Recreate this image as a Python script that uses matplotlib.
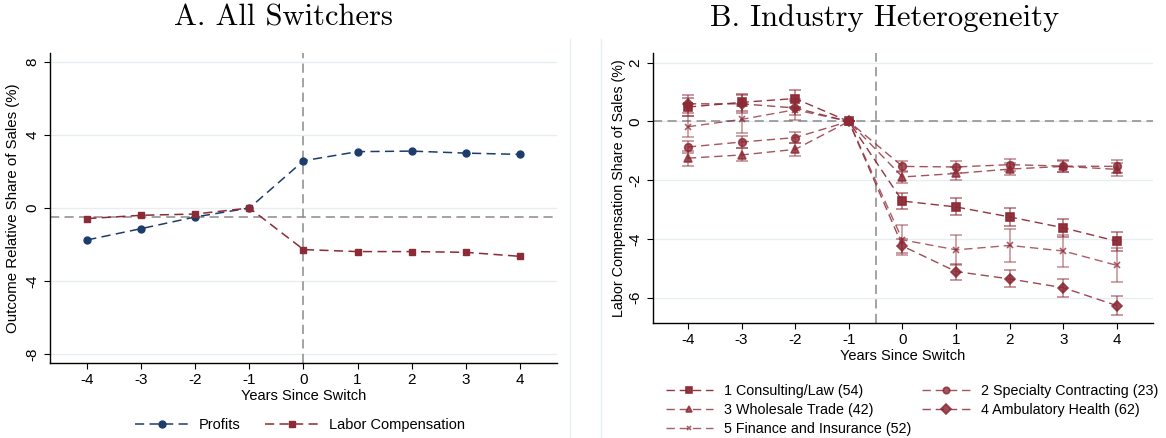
import matplotlib
matplotlib.use("Agg")
import matplotlib.pyplot as plt
from matplotlib.lines import Line2D

plt.rcParams["font.family"] = ["Liberation Sans", "DejaVu Sans"]
plt.rcParams["axes.unicode_minus"] = False

# years relative to switch
years = [-4, -3, -2, -1, 0, 1, 2, 3, 4]

# panel A
profits = [-1.75, -1.13, -0.49, 0.0, 2.59, 3.09, 3.12, 3.01, 2.94]
labor = [-0.58, -0.40, -0.33, 0.0, -2.28, -2.39, -2.39, -2.43, -2.65]

# panel B: estimates and CI half-widths
industries = ["1 Consulting/Law (54)", "2 Specialty Contracting (23)", "3 Wholesale Trade (42)",
              "4 Ambulatory Health (62)", "5 Finance and Insurance (52)"]
markers = ["s", "o", "^", "D", "x"]
consulting = [0.49, 0.65, 0.78, 0.0, -2.71, -2.91, -3.25, -3.62, -4.08]
consulting_ci = [0.30, 0.30, 0.28, 0.0, 0.27, 0.29, 0.31, 0.31, 0.32]
specialty = [-0.87, -0.70, -0.55, 0.0, -1.53, -1.55, -1.47, -1.52, -1.53]
specialty_ci = [0.22, 0.22, 0.18, 0.0, 0.20, 0.20, 0.20, 0.20, 0.22]
wholesale = [-1.25, -1.14, -0.95, 0.0, -1.89, -1.77, -1.62, -1.53, -1.63]
wholesale_ci = [0.25, 0.22, 0.22, 0.0, 0.22, 0.22, 0.20, 0.20, 0.22]
health = [0.60, 0.60, 0.46, 0.0, -4.24, -5.11, -5.36, -5.66, -6.27]
health_ci = [0.30, 0.30, 0.25, 0.0, 0.25, 0.27, 0.29, 0.31, 0.33]
finance = [-0.18, 0.07, 0.40, 0.0, -4.03, -4.37, -4.22, -4.41, -4.90]
finance_ci = [0.35, 0.45, 0.35, 0.0, 0.50, 0.50, 0.55, 0.55, 0.58]

navy = "#1c3d6b"
red = "#8c2a35"
grid_c = "#e6eef1"
dash = (0, (6, 3.5))

fig = plt.figure(figsize=(11.66, 4.38), dpi=100)

# panel borders
fig.add_artist(Line2D([570 / 1166, 570 / 1166], [0, 1 - 39 / 438], color=grid_c, lw=1))
fig.add_artist(Line2D([601 / 1166, 601 / 1166], [0, 1 - 39 / 438], color=grid_c, lw=1))

fig.text(283 / 1166, 1 - 18 / 438, "A. All Switchers", family="cmr10", fontsize=22, ha="center", va="center")
fig.text(885 / 1166, 1 - 18 / 438, "B. Industry Heterogeneity", family="cmr10", fontsize=22, ha="center", va="center")


def style(ax, fs):
    for s in ["top", "right"]:
        ax.spines[s].set_visible(False)
    ax.spines["left"].set_linewidth(1.0)
    ax.spines["bottom"].set_linewidth(1.0)
    ax.grid(axis="y", color=grid_c, lw=1)
    ax.set_axisbelow(True)
    ax.set_xticks(years)
    ax.tick_params(labelsize=fs + 0.5, length=4, width=0.8)
    for lab in ax.get_yticklabels():
        lab.set_rotation(90)
        lab.set_va("center")
    ax.set_xlabel("Years Since Switch", fontsize=fs, labelpad=1)


# ---- panel A
ax1 = fig.add_axes([50 / 1166, 1 - 363 / 438, 507 / 1166, 310 / 438])
ax1.axvline(0, color="#8a8a8a", lw=1.1, ls=dash)
ax1.axhline(-0.5, color="#8a8a8a", lw=1.1, ls=dash)
ax1.plot(years, profits, color=navy, lw=1.1, ls=dash, marker="o", ms=5, label="Profits")
ax1.plot(years, labor, color=red, lw=1.1, ls=dash, marker="s", ms=5, label="Labor Compensation")
ax1.set_xlim(-4.69, 4.69)
ax1.set_ylim(-8.5, 8.5)
ax1.set_yticks([-8, -4, 0, 4, 8])
style(ax1, 10.5)
ax1.set_ylabel("Outcome Relative Share of Sales (%)", fontsize=10.8, labelpad=4)
fig.legend(handles=ax1.get_lines()[2:], loc="center", bbox_to_anchor=(300 / 1166, 1 - 425 / 438),
           ncol=2, frameon=False, fontsize=10.5, handlelength=3.7, handletextpad=0.7,
           columnspacing=1.7)

# ---- panel B
ax2 = fig.add_axes([653 / 1166, 1 - 323 / 438, 500 / 1166, 270 / 438])
ax2.axhline(0, color="#8a8a8a", lw=1.1, ls=dash)
ax2.axvline(-0.5, color="#8a8a8a", lw=1.1, ls=dash)
series = [(consulting, consulting_ci, 0.95), (specialty, specialty_ci, 0.8),
          (wholesale, wholesale_ci, 0.8), (health, health_ci, 0.85), (finance, finance_ci, 0.75)]
handles = []
for (vals, ci, a), m, name in zip(series, markers, industries):
    ax2.errorbar(years, vals, yerr=ci, color=red, alpha=a * 0.6, lw=0, elinewidth=1.3,
                 capsize=4, capthick=1.3)
    ln, = ax2.plot(years, vals, color=red, alpha=a, lw=1.0, ls=dash, marker=m,
                   ms=4 if m == "x" else 5.5, mew=1.2, label=name)
    handles.append(ln)
ax2.set_xlim(-4.65, 4.67)
ax2.set_ylim(-6.86, 2.33)
ax2.set_yticks([-6, -4, -2, 0, 2])
style(ax2, 10.5)
ax2.set_ylabel("Labor Compensation Share of Sales (%)", fontsize=10.3, labelpad=2)
# row-wise order for a 2-column legend
order = [0, 2, 4, 1, 3]
fig.legend(handles=[handles[i] for i in order], loc="upper left",
           bbox_to_anchor=(653 / 1166, 1 - 371 / 438),
           ncol=2, frameon=False, fontsize=10.3, handlelength=3.3, handletextpad=0.77,
           columnspacing=0.77, labelspacing=0.35, markerscale=0.85)

fig.savefig("out.png", dpi=100)
